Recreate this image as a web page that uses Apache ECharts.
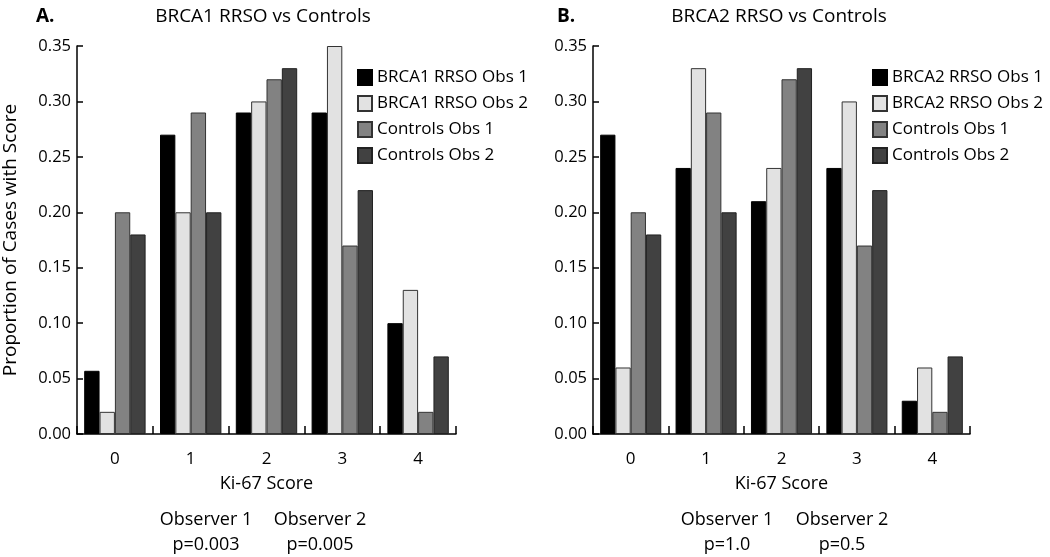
<!DOCTYPE html>
<html>
<head>
<meta charset="utf-8">
<script src="https://cdn.jsdelivr.net/npm/echarts@6/dist/echarts.min.js"></script>
<style>
html,body{margin:0;padding:0;background:#fff;}
#c{width:1050px;height:557px;}
</style>
</head>
<body>
<div id="c"></div>
<script>
const categories = ['0', '1', '2', '3', '4'];
const yTicks = { min: 0, max: 0.35, interval: 0.05 };

// Panel A
const brca1Obs1 = [0.057, 0.27, 0.29, 0.29, 0.10];
const brca1Obs2 = [0.02, 0.20, 0.30, 0.35, 0.13];
// Panel B
const brca2Obs1 = [0.27, 0.24, 0.21, 0.24, 0.03];
const brca2Obs2 = [0.06, 0.33, 0.24, 0.30, 0.06];
// Controls (both panels)
const controlsObs1 = [0.20, 0.29, 0.32, 0.17, 0.02];
const controlsObs2 = [0.18, 0.20, 0.33, 0.22, 0.07];

const panelLabels = ['A.', 'B.'];
const panelTitles = ['BRCA1 RRSO vs Controls', 'BRCA2 RRSO vs Controls'];
const namesA = ['BRCA1 RRSO Obs 1', 'BRCA1 RRSO Obs 2', 'Controls Obs 1', 'Controls Obs 2'];
const namesB = ['BRCA2 RRSO Obs 1', 'BRCA2 RRSO Obs 2', 'Controls Obs 1', 'Controls Obs 2'];
const observerNotes = [
  ['Observer 1', 'p=0.003', 'Observer 2', 'p=0.005'],
  ['Observer 1', 'p=1.0', 'Observer 2', 'p=0.5']
];

const FONT = '"Open Sans", sans-serif';
const fills = ['#000000', '#e2e2e2', '#828282', '#414141'];
const borders = ['#000000', '#333333', '#333333', '#222222'];

const grids = [
  { left: 72, top: 46, width: 384, height: 388 },
  { left: 593, top: 46, width: 377, height: 388 }
];

function xAxis(gi) {
  return {
    type: 'category', gridIndex: gi, data: categories, boundaryGap: true,
    name: 'Ki-67 Score', nameLocation: 'middle', nameGap: 41,
    nameTextStyle: { fontFamily: FONT, fontSize: 18, color: '#000' },
    axisLine: { lineStyle: { color: '#000', width: 1.5 } },
    axisTick: { show: true, inside: true, length: 8, interval: 0, lineStyle: { color: '#000', width: 1.5 } },
    axisLabel: { fontFamily: FONT, fontSize: 17, color: '#000', margin: 17 },
    splitLine: { show: false }
  };
}
function yAxis(gi, withName) {
  return {
    type: 'value', gridIndex: gi, min: yTicks.min, max: yTicks.max, interval: yTicks.interval,
    name: withName ? 'Proportion of Cases with Score' : '', nameLocation: 'middle', nameGap: 57,
    nameTextStyle: { fontFamily: FONT, fontSize: 19, color: '#000' },
    axisLine: { show: true, lineStyle: { color: '#000', width: 1.5 } },
    axisTick: { show: true, inside: true, length: 6, lineStyle: { color: '#000', width: 1.5 } },
    axisLabel: { fontFamily: FONT, fontSize: 16.5, color: '#000', margin: 6, formatter: v => v.toFixed(2) },
    splitLine: { show: false }
  };
}

const dataA = [brca1Obs1, brca1Obs2, controlsObs1, controlsObs2];
const dataB = [brca2Obs1, brca2Obs2, controlsObs1, controlsObs2];
const series = [];
[dataA, dataB].forEach((set, gi) => {
  const names = gi === 0 ? namesA : namesB;
  set.forEach((d, i) => {
    series.push({
      type: 'bar', name: names[i], xAxisIndex: gi, yAxisIndex: gi, data: d,
      barGap: '0%', barCategoryGap: '19%',
      itemStyle: { color: fills[i], borderColor: borders[i], borderWidth: 1 },
      emphasis: { disabled: true }
    });
  });
});

function txt(x, y, t, size, weight, align) {
  return { type: 'text', x: x, y: y,
    style: { text: t, font: (weight || 'normal') + ' ' + size + 'px ' + FONT, fill: '#000', align: align || 'center', verticalAlign: 'middle' } };
}
const graphic = [];
const noteX = [[206, 320], [727, 842]];
observerNotes.forEach((n, gi) => {
  graphic.push(txt(noteX[gi][0], 520, n[0], 18));
  graphic.push(txt(noteX[gi][0], 545, n[1], 18));
  graphic.push(txt(noteX[gi][1], 520, n[2], 18));
  graphic.push(txt(noteX[gi][1], 545, n[3], 18));
});
graphic.push(txt(36, 17, panelLabels[0], 19, 'bold', 'left'));
graphic.push(txt(263, 17, panelTitles[0], 19, 'normal', 'center'));
graphic.push(txt(557, 17, panelLabels[1], 19, 'bold', 'left'));
graphic.push(txt(779, 17, panelTitles[1], 19, 'normal', 'center'));

const chart = echarts.init(document.getElementById('c'), null, { renderer: 'canvas' });
chart.setOption({
  animation: false,
  backgroundColor: '#fff',
  legend: [
    { data: namesA, left: 352, top: 64, orient: 'vertical', itemWidth: 14, itemHeight: 15, itemGap: 9, icon: 'rect',
      textStyle: { fontFamily: FONT, fontSize: 17, color: '#000' }, selectedMode: false },
    { data: namesB, left: 867, top: 64, orient: 'vertical', itemWidth: 14, itemHeight: 15, itemGap: 9, icon: 'rect',
      textStyle: { fontFamily: FONT, fontSize: 17, color: '#000' }, selectedMode: false }
  ],
  grid: grids,
  xAxis: [xAxis(0), xAxis(1)],
  yAxis: [yAxis(0, true), yAxis(1, false)],
  series: series,
  graphic: graphic
});
</script>
</body>
</html>
